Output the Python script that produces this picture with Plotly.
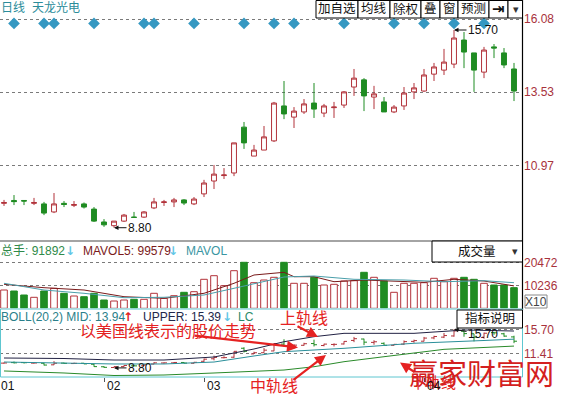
import plotly.graph_objects as go

# ---------------- data ----------------
days = list(range(52))
open_ = [9.65, 9.75, 9.75, 9.65, 9.63, 9.35, 9.65, 9.58, 9.63, 9.45,
         9.00, 8.87, 9.03, 9.17, 9.17, 9.49, 9.68, 9.70, 9.77, 9.63,
         9.98, 10.43, 10.62, 10.71, 12.31, 11.30, 11.51, 11.83, 13.05, 12.66,
         12.84, 13.15, 12.80, 12.99, 13.08, 13.71, 13.96, 13.36, 13.19, 12.84,
         13.05, 13.54, 13.57, 14.16, 14.30, 14.51, 15.35, 14.90, 14.23, 15.11,
         14.90, 14.34]
high = [9.77, 9.94, 9.75, 9.84, 9.70, 10.01, 9.73, 9.73, 9.68, 9.52,
        9.10, 9.03, 9.28, 9.35, 9.38, 9.84, 9.77, 9.84, 9.80, 9.87,
        10.47, 10.99, 10.88, 11.76, 12.49, 11.69, 12.35, 13.19, 13.92, 13.01,
        13.29, 13.85, 13.12, 13.19, 13.57, 14.34, 14.02, 13.75, 13.36, 13.08,
        13.71, 13.85, 14.34, 14.55, 15.04, 15.70, 15.63, 14.90, 15.11, 15.21,
        15.07, 14.55]
low = [9.56, 9.59, 9.59, 9.59, 9.24, 9.31, 9.52, 9.52, 9.47, 9.00,
       8.83, 8.80, 9.00, 9.16, 9.14, 9.45, 9.56, 9.52, 9.59, 9.59,
       9.87, 10.15, 10.50, 10.60, 11.55, 11.30, 11.51, 11.79, 12.59, 12.28,
       12.77, 12.63, 12.66, 12.63, 12.98, 13.40, 12.87, 12.94, 12.84, 12.80,
       12.91, 13.29, 13.54, 13.92, 14.13, 14.37, 14.37, 13.54, 14.02, 14.72,
       14.37, 13.22]
close = [9.68, 9.71, 9.73, 9.68, 9.31, 9.63, 9.61, 9.61, 9.52, 9.03,
         8.90, 9.03, 9.24, 9.16, 9.35, 9.70, 9.70, 9.77, 9.66, 9.80,
         10.36, 10.67, 10.64, 11.76, 11.76, 11.51, 11.97, 13.15, 12.77, 12.87,
         13.12, 12.94, 13.05, 13.01, 13.54, 14.02, 13.40, 13.47, 12.84, 13.01,
         13.50, 13.68, 14.13, 14.41, 14.58, 15.42, 14.93, 14.30, 15.00, 15.07,
         14.48, 13.57]
volume = [8144, 7699, 5919, 4895, 7699, 8901, 6676, 5474, 5162, 6676,
          3694, 3249, 3694, 4005, 4005, 6676, 4450, 5608, 7121, 7388,
          12906, 14508, 10058, 16734, 20472, 11393, 12595, 13796, 20472, 11126,
          11126, 13796, 10369, 10681, 12150, 12283, 16021, 13796, 12150, 7121,
          11126, 11126, 11393, 13351, 11838, 13351, 13796, 12906, 11126, 10369,
          10369, 9189]
ma5_idx = [0, 4, 8, 12, 16, 20, 23, 25, 28, 29, 31, 33, 36, 40, 42, 45, 48, 51]
ma5 = [10681, 9168, 8144, 5162, 4450, 6676, 11126, 14820, 16021, 14063,
       14063, 11838, 12595, 11838, 11571, 12906, 12150, 9958]
ma10_idx = [0, 4, 8, 12, 16, 20, 23, 28, 31, 35, 40, 44, 48, 51]
ma10 = [11126, 8144, 6676, 4717, 4895, 5919, 8901, 13930, 14375, 12906,
        12595, 11838, 12283, 11393]
boll_up_idx = [0, 6, 11, 16, 21, 25, 28, 31, 34, 38, 41, 45, 46, 51]
boll_up = [10.57, 10.48, 10.21, 10.21, 10.75, 12.18, 13.48, 14.38, 14.98, 14.98,
           14.98, 15.45, 15.58, 15.39]
boll_mid_idx = [0, 6, 11, 16, 21, 25, 28, 34, 41, 48, 51]
boll_mid = [9.85, 9.68, 9.50, 9.50, 9.85, 10.93, 11.70, 12.30, 13.20, 13.70, 13.94]
boll_low_idx = [0, 6, 11, 16, 21, 25, 28, 31, 34, 38, 41, 44, 51]
boll_low = [8.25, 7.89, 7.44, 7.53, 7.89, 8.25, 8.42, 9.01, 9.91, 10.80,
            11.41, 12.12, 12.70]
event_idx = [1, 4, 5, 9, 14, 15, 19, 24, 27, 29, 34, 39, 42, 45, 48]
month_idx = [0, 10, 20, 42]
month_labels = ['01', '02', '03', '04']
price_ticks = [10.97, 13.53, 16.08]
vol_ticks = [10236, 20472]
boll_ticks = [11.41, 15.70]
hi_idx, hi_val = 45, 15.70
lo_idx, lo_val = 11, 8.80

# ---------------- styling ----------------
W, H, PW = 561, 397, 523
RED = '#b2323a'
GREEN = '#1f8c22'
TEAL = '#2b8c9a'
AX = '#a8323c'
ARROWRED = '#e52222'
CJK = 'Noto Sans CJK SC'


def X(px):
    return px / PW


def Y(py):
    return 1 - py / H


up = [c >= o for o, c in zip(open_, close)]

fig = go.Figure()
fig.add_trace(go.Candlestick(
    x=days, open=open_, high=high, low=low, close=close,
    increasing=dict(line=dict(color=RED, width=1), fillcolor='white'),
    decreasing=dict(line=dict(color=GREEN, width=1), fillcolor=GREEN),
    xaxis='x', yaxis='y', hoverinfo='skip'))
fig.add_trace(go.Scatter(
    x=event_idx, y=[15.93] * len(event_idx), mode='markers',
    marker=dict(symbol='diamond', size=9, color='#3598c2'),
    xaxis='x', yaxis='y', hoverinfo='skip'))

fig.add_trace(go.Bar(
    x=days, y=volume, width=0.66,
    marker=dict(color=['white' if u else GREEN for u in up],
                line=dict(color=[RED if u else GREEN for u in up], width=1)),
    xaxis='x2', yaxis='y2', hoverinfo='skip'))
fig.add_trace(go.Scatter(x=ma5_idx, y=ma5, mode='lines',
                         line=dict(color='#7a1a1a', width=1),
                         xaxis='x2', yaxis='y2', hoverinfo='skip'))
fig.add_trace(go.Scatter(x=ma10_idx, y=ma10, mode='lines',
                         line=dict(color='#4a9eaa', width=1),
                         xaxis='x2', yaxis='y2', hoverinfo='skip'))

fig.add_trace(go.Ohlc(
    x=days, open=open_, high=high, low=low, close=close, tickwidth=0.3,
    increasing=dict(line=dict(color=RED, width=1)),
    decreasing=dict(line=dict(color=GREEN, width=1)),
    xaxis='x3', yaxis='y3', hoverinfo='skip'))
fig.add_trace(go.Scatter(x=boll_up_idx, y=boll_up, mode='lines',
                         line=dict(color='#222244', width=1),
                         xaxis='x3', yaxis='y3', hoverinfo='skip'))
fig.add_trace(go.Scatter(x=boll_mid_idx, y=boll_mid, mode='lines',
                         line=dict(color='#2a8f9a', width=1),
                         xaxis='x3', yaxis='y3', hoverinfo='skip'))
fig.add_trace(go.Scatter(x=boll_low_idx, y=boll_low, mode='lines',
                         line=dict(color='#2a8a2a', width=1),
                         xaxis='x3', yaxis='y3', hoverinfo='skip'))

xr = [-0.4, 51.9]
common_x = dict(range=xr, domain=[0, 1], showgrid=False, zeroline=False,
                showticklabels=False, fixedrange=True, rangeslider=dict(visible=False))
common_y = dict(side='right', showgrid=True, griddash='dot', gridcolor='#7a7a7a',
                gridwidth=1, zeroline=False, showline=False, ticks='',
                tickfont=dict(color=AX, size=12), fixedrange=True)

fig.update_layout(
    width=W, height=H, margin=dict(l=0, r=W - PW, t=0, b=0, autoexpand=False),
    paper_bgcolor='white', plot_bgcolor='white', showlegend=False,
    hovermode=False,
    font=dict(family='Liberation Sans, Arial, ' + CJK, size=12, color='#111'),
    xaxis=dict(anchor='y', **common_x),
    xaxis2=dict(anchor='y2', **common_x),
    xaxis3=dict(anchor='y3', ticks='outside', ticklen=4, tickcolor='#555',
                tickvals=month_idx[1:], **common_x),
    yaxis=dict(anchor='x', domain=[Y(241), 1], range=[8.336, 16.747],
               tickvals=price_ticks, ticktext=[f'{v:.2f}' for v in price_ticks], **common_y),
    yaxis2=dict(anchor='x2', domain=[Y(308.3), Y(241)], range=[0, 29951],
                tickvals=vol_ticks, ticktext=[str(v) for v in vol_ticks], **common_y),
    yaxis3=dict(anchor='x3', domain=[Y(377), Y(310)], range=[7.173, 19.15],
                tickvals=boll_ticks, ticktext=[f'{v:.2f}' for v in boll_ticks], **common_y),
)


def rect(x0, y0, x1, y1, color='#000', fill='white', width=1):
    return dict(type='rect', xref='paper', yref='paper', x0=X(x0), x1=X(x1),
                y0=Y(y1), y1=Y(y0), line=dict(color=color, width=width),
                fillcolor=fill, layer='above')


def hline(x0, x1, y, color, width=1):
    return dict(type='line', xref='paper', yref='paper', x0=X(x0), x1=X(x1),
                y0=Y(y), y1=Y(y), line=dict(color=color, width=width))


def vline(x, y0, y1, color, width=1):
    return dict(type='line', xref='paper', yref='paper', x0=X(x), x1=X(x),
                y0=Y(y0), y1=Y(y1), line=dict(color=color, width=width))


shapes = [
    hline(0, PW, 241, '#4a4a4a', 1.2),
    vline(PW - 0.5, 0, 310, '#000', 1.2),
    dict(type='rect', xref='paper', yref='paper', x0=X(0.5), x1=X(PW - 0.5),
         y0=Y(377), y1=Y(309), line=dict(color='#5ec6d0', width=1)),
    rect(432, 241, PW - 0.5, 262),
    rect(457, 310, PW - 0.5, 328),
    rect(525, 295, 547, 308, color='#8a8a8a', fill='rgba(0,0,0,0)'),
]
tool_edges = [316, 358, 390, 421, 440, 458, 489, 508, PW - 0.5]
for a, b in zip(tool_edges[:-1], tool_edges[1:]):
    shapes.append(rect(a, 0.5, b, 18))
fig.update_layout(shapes=shapes)


def T(x, y, s, color='#111', size=12, anchor='center', bold=False, family=None):
    f = dict(size=size, color=color)
    if family:
        f['family'] = family
    return dict(xref='paper', yref='paper', x=X(x), y=Y(y),
                text=('<b>%s</b>' % s) if bold else s, showarrow=False,
                xanchor=anchor, yanchor='middle', font=f)


def ARW(tipx, tipy, tailx, taily):
    return dict(xref='paper', yref='paper', x=X(tipx), y=Y(tipy),
                ax=tailx - tipx, ay=taily - tipy, text='', showarrow=True,
                arrowhead=2, arrowsize=1, arrowwidth=2.2, arrowcolor=ARROWRED)


ann = [
    T(-1, 8, '日线', TEAL, 12, 'left'),
    T(30, 8, '天龙光电', TEAL, 12, 'left'),
    T(337, 9, '加自选', '#111', 12.5),
    T(374, 9, '均线', '#111', 12.5),
    T(405.5, 9, '除权', '#111', 12.5),
    T(430.5, 9, '叠', '#111', 12.5),
    T(449, 9, '窗', '#111', 12.5),
    T(473.5, 9, '预测', '#111', 12.5),
    T(498.5, 9, '⇥', '#111', 15, bold=True, family='DejaVu Sans'),
    T(515.5, 9, '▾', '#333', 11, family='DejaVu Sans'),
    # volume header
    T(-1, 251.5, '总手: 91892', '#2f8a4a', 12, 'left'),
    T(70, 251.5, '↓', '#62c6e6', 12, bold=True, family='DejaVu Sans'),
    T(81, 251.5, 'MAVOL5: 99579', '#7a1a1a', 12, 'left'),
    T(173, 251.5, '↓', '#62c6e6', 12, bold=True, family='DejaVu Sans'),
    T(184, 251.5, 'MAVOL', '#3a96a2', 12, 'left'),
    T(476.5, 251.5, '成交量', '#111', 12.5),
    T(515, 251, '▾', '#333', 11, family='DejaVu Sans'),
    T(536, 301.5, 'X10', '#444', 12),
    # boll header
    T(-1, 317, 'BOLL(20,2) MID: 13.94', '#2a7f8a', 12, 'left'),
    T(128, 317, '↑', '#e02020', 12, bold=True, family='DejaVu Sans'),
    T(141, 317, 'UPPER: 15.39', '#22284a', 12, 'left'),
    T(227, 317, '↓', '#62c6e6', 12, bold=True, family='DejaVu Sans'),
    T(236, 317, 'LC', '#2a8a6a', 12, 'left'),
    T(490, 318.5, '指标说明', '#111', 12.5),
]

# high / low markers
for xr_, yr_ in (('x', 'y'), ('x3', 'y3')):
    ann.append(dict(xref=xr_, yref=yr_, x=hi_idx, y=hi_val, ax=29,
                    ay=(0 if xr_ == 'x' else 5), text=str('%.2f' % hi_val),
                    showarrow=True, arrowhead=2, arrowsize=0.9, arrowwidth=1,
                    arrowcolor='#111', font=dict(size=12, color='#111')))
    ann.append(dict(xref=xr_, yref=yr_, x=lo_idx, y=lo_val, ax=26,
                    ay=0, text=str('%.2f' % lo_val),
                    showarrow=True, arrowhead=2, arrowsize=0.9, arrowwidth=1,
                    arrowcolor='#111', font=dict(size=12, color='#111')))

# month labels
for k, (i, lab) in enumerate(zip(month_idx, month_labels)):
    if k == 3:
        continue
    ann.append(dict(xref='x3', yref='paper', x=i, y=Y(385.5), text=lab,
                    showarrow=False, xanchor='left', yanchor='middle',
                    xshift=(-5 if k == 0 else 1), font=dict(size=12, color='#111')))

# red notes
ann += [
    T(168, 330, '以美国线表示的股价走势', ARROWRED, 16, family=CJK),
    T(303.5, 316.5, '上轨线', ARROWRED, 16, family=CJK),
    T(273.5, 385, '中轨线', ARROWRED, 16, family=CJK),
    ARW(298, 347.5, 193, 335.5),
    ARW(318, 337, 296, 325.5),
    ARW(326, 355, 292, 381),
    ARW(400, 362.5, 416, 373),
    T(433, 381, '下轨线', ARROWRED, 15, family=CJK),
    T(481, 372, '赢家财富网', '#d42020', 29, family=CJK),
]
ann.append(dict(xref='x3', yref='paper', x=month_idx[3], y=Y(386), text=month_labels[3],
                showarrow=False, xanchor='left', yanchor='middle', xshift=1,
                font=dict(size=12, color='#111')))

fig.update_layout(annotations=ann)
fig.write_html('out.html', config={'displayModeBar': False},
               post_script="document.body.style.margin='0px';document.body.style.overflow='hidden';")
